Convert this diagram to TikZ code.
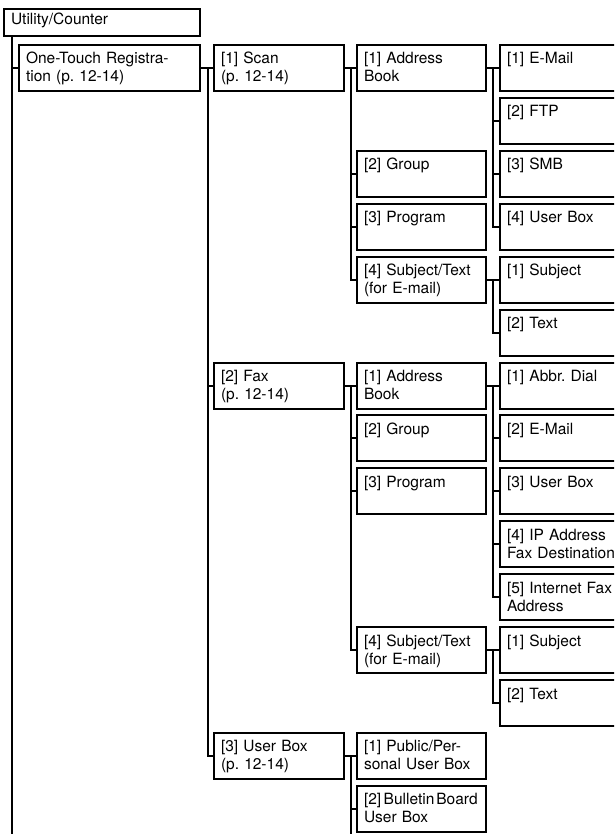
\documentclass[tikz,border=0pt]{standalone}
\usepackage{fontspec}
\setmainfont{TeX Gyre Heros}
\usetikzlibrary{positioning}
\frenchspacing

\tikzset{
  menubox/.style={draw,outer sep=0pt,anchor=north west,
    inner xsep=7pt,inner ysep=8pt,text height=11pt,text depth=19pt,
    align=left,font=\fontsize{15.5}{18}\selectfont},
  twig/.style={line width=2pt}
}

\begin{document}
\begin{tikzpicture}[x=1pt,y=-1pt,line width=2pt]
    \path[use as bounding box] (0,0) rectangle (614,834);
    \clip (0,0) rectangle (614,834);
    % top of the menu
    \node[menubox,text width=182pt,inner ysep=6pt,text height=10pt,
      text depth=5pt] (root) at (4,9) {Utility/Counter};
    \node[menubox,text width=167pt] (onetouch)
      at (19,45) {One-Touch Registra-\\tion (p. 12-14)};
    % second level
    \foreach \r/\nm/\lab in {
      0/scan/{[1] Scan\\(p. 12-14)},
      6/fax/{[2] Fax\\(p. 12-14)},
      13/ubox/{[3] User Box\\(p. 12-14)}}
      {
        \node[menubox,text width=116pt] (\nm) at (214,{45+52.92*\r}) {\lab};
      }
    % third level
    \foreach \r/\nm/\lab in {
      0/sab/{[1] Address\\Book},2/sgrp/{[2] Group},3/sprog/{[3] Program},
      4/ssubj/{[4] Subject/Text\\(for E-mail)},
      6/fab/{[1] Address\\Book},7/fgrp/{[2] Group},8/fprog/{[3] Program},
      11/fsubj/{[4] Subject/Text\\(for E-mail)},
      13/bpub/{[1] Public/Per-\\sonal User Box},
      14/bbull/{\mbox{[2]\hspace{2.5pt}Bulletin\hspace{2pt}Board}\\User Box}}
      {
        \node[menubox,text width=115pt] (\nm) at (357,{45+52.92*\r}) {\lab};
      }
    % fourth level (cut at the right edge)
    \foreach \r/\nm/\lab in {
      0/smail/{[1] E-Mail},1/sftp/{[2] FTP},2/ssmb/{[3] SMB},
      3/sbox/{[4] User Box},4/ssj/{[1] Subject},5/stxt/{[2] Text},
      6/fabbr/{[1] Abbr. Dial},7/fmail/{[2] E-Mail},8/fbox/{[3] User Box},
      9/fip/{[4] IP Address\\Fax Destination},
      10/finet/{[5] Internet Fax\\Address},
      11/fsj/{[1] Subject},12/ftxt/{[2] Text}}
      {
        \node[menubox,text width=126pt] (\nm) at (500,{45+52.92*\r}) {\lab};
      }
    % tree lines
    \coordinate (rootend) at (12,840);
    \coordinate (uboxend) at (351,840);
    \draw[twig] ([xshift=8pt]root.south west) -- (rootend);
    \draw[twig] ([xshift=8pt]root.south west) |- (onetouch.west);
    \foreach \c in {scan,fax,ubox}
      \draw[twig] (onetouch.east) -- ++(8,0) |- (\c.west);
    \foreach \c in {sab,sgrp,sprog,ssubj}
      \draw[twig] (scan.east) -- ++(7,0) |- (\c.west);
    \foreach \c in {fab,fgrp,fprog,fsubj}
      \draw[twig] (fax.east) -- ++(7,0) |- (\c.west);
    \foreach \c in {bpub,bbull}
      \draw[twig] (ubox.east) -- ++(7,0) |- (\c.west);
    \draw[twig] (ubox.east) -- ++(7,0) -- (uboxend);
    \foreach \c in {smail,sftp,ssmb,sbox}
      \draw[twig] (sab.east) -- ++(7,0) |- (\c.west);
    \foreach \c in {ssj,stxt}
      \draw[twig] (ssubj.east) -- ++(7,0) |- (\c.west);
    \foreach \c in {fabbr,fmail,fbox,fip,finet}
      \draw[twig] (fab.east) -- ++(7,0) |- (\c.west);
    \foreach \c in {fsj,ftxt}
      \draw[twig] (fsubj.east) -- ++(7,0) |- (\c.west);
  \end{tikzpicture}
\end{document}
